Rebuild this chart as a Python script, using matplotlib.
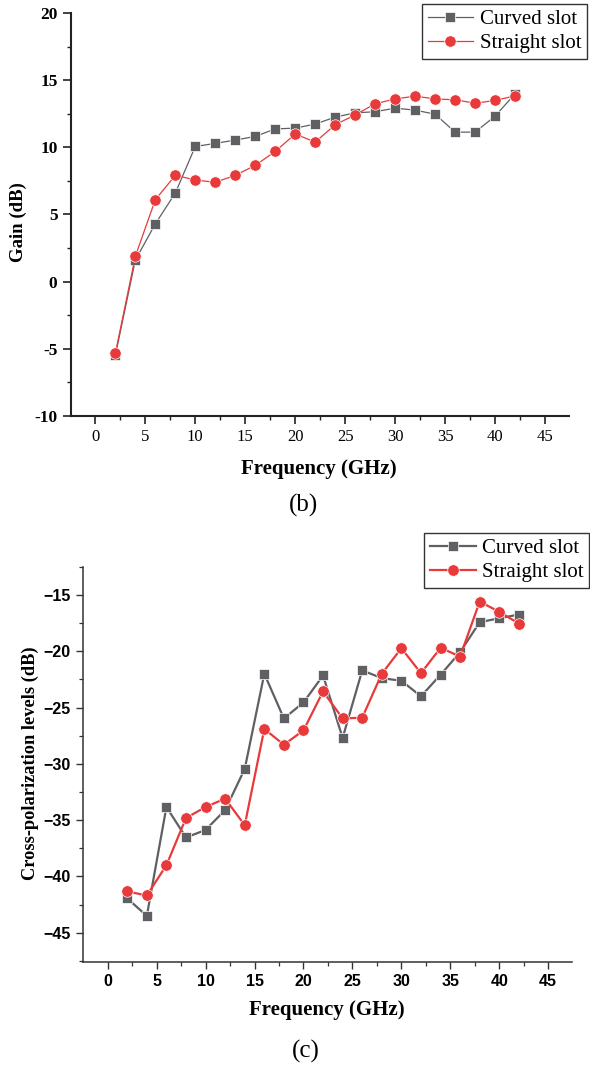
import matplotlib
matplotlib.use("Agg")
import matplotlib.pyplot as plt
from matplotlib.ticker import MultipleLocator, FixedLocator

freq = [2, 4, 6, 8, 10, 12, 14, 16, 18, 20, 22, 24, 26, 28, 30, 32, 34, 36, 38, 40, 42]

gain_curved = [-5.5, 1.6, 4.3, 6.6, 10.07, 10.3, 10.55, 10.82, 11.38, 11.44, 11.74, 12.26,
               12.58, 12.66, 12.93, 12.78, 12.48, 11.14, 11.14, 12.33, 14.0]
gain_straight = [-5.35, 1.88, 6.1, 7.92, 7.57, 7.4, 7.92, 8.66, 9.7, 11.0, 10.4, 11.69,
                 12.43, 13.25, 13.62, 13.82, 13.62, 13.55, 13.3, 13.5, 13.85]

xpol_curved = [-41.95, -43.5, -33.83, -36.54, -35.87, -34.1, -30.45, -22.0, -25.97, -24.55,
               -22.15, -27.7, -21.7, -22.39, -22.62, -24.0, -22.09, -20.08, -17.42, -17.07, -16.74]
xpol_straight = [-41.33, -41.69, -39.0, -34.81, -33.83, -33.09, -35.45, -26.9, -28.3, -27.03,
                 -23.57, -25.97, -25.9, -22.0, -19.73, -21.95, -19.7, -20.47, -15.59, -16.5, -17.54]

series_names = ["Curved slot", "Straight slot"]
gain_yticks = [-10, -5, 0, 5, 10, 15, 20]
gain_xticks = [0, 5, 10, 15, 20, 25, 30, 35, 40, 45]
xpol_yticks = [-45, -40, -35, -30, -25, -20, -15]
xpol_xticks = [0, 5, 10, 15, 20, 25, 30, 35, 40, 45]

GRAY = "#5f6064"
RED = "#e83a3a"
SERIF = ["Liberation Serif", "DejaVu Serif"]
NARROW = ["Liberation Sans Narrow", "Liberation Sans", "DejaVu Sans"]

fig = plt.figure(figsize=(5.9, 10.65), dpi=100)

# ---------------- (b) Gain ----------------
ax1 = fig.add_axes([0.1198, 0.6097, 0.8446, 0.3778])
ax1.plot(freq, gain_curved, color=GRAY, lw=0.9, marker="s", ms=7.2,
         mfc=GRAY, mec="white", mew=0.5, label=series_names[0])
ax1.plot(freq, gain_straight, color=RED, lw=0.9, marker="o", ms=8.2,
         mfc=RED, mec="white", mew=0.5, label=series_names[1])
ax1.set_xlim(-2.47, 47.4)
ax1.set_ylim(-10, 20)
ax1.xaxis.set_major_locator(FixedLocator(gain_xticks))
ax1.xaxis.set_minor_locator(MultipleLocator(2.5))
ax1.yaxis.set_major_locator(FixedLocator(gain_yticks))
ax1.yaxis.set_minor_locator(MultipleLocator(2.5))
ax1.set_xticklabels([str(v) for v in gain_xticks], family=SERIF, fontsize=12)
ax1.set_yticklabels([str(v) for v in gain_yticks], family=SERIF, fontsize=12.5, fontweight="bold")
for s in ["top", "right"]:
    ax1.spines[s].set_visible(False)
for s in ["left", "bottom"]:
    ax1.spines[s].set_linewidth(1.5)
    ax1.spines[s].set_color("#222222")
ax1.tick_params(which="major", direction="out", length=5.5, width=1.2, color="#222222", pad=4)
ax1.tick_params(which="minor", direction="out", length=3, width=1.0, color="#222222")

fig.text(0.541, 0.5596, "Frequency (GHz)", ha="center", va="center",
         family=SERIF, fontsize=15, fontweight="bold")
fig.text(0.0305, 0.7915, "Gain (dB)", ha="center", va="center", rotation=90,
         family=SERIF, fontsize=13.5, fontweight="bold")
fig.text(0.514, 0.525, "(b)", ha="center", va="center", family=SERIF, fontsize=18)

leg1 = ax1.legend(loc="upper right", bbox_to_anchor=(0.995, 0.9962),
                  bbox_transform=fig.transFigure, prop={"family": SERIF, "size": 15},
                  frameon=True, fancybox=False, framealpha=1, edgecolor="#333333",
                  handlelength=2.2, borderpad=0.28, labelspacing=0.2, handletextpad=0.3,
                  borderaxespad=0)
leg1.get_frame().set_linewidth(1.0)

# ---------------- (c) Cross-polarization ----------------
ax2 = fig.add_axes([0.1412, 0.0970, 0.8278, 0.3709])
ax2.plot(freq, xpol_curved, color=GRAY, lw=1.6, marker="s", ms=7.2,
         mfc=GRAY, mec="white", mew=0.5, label=series_names[0])
ax2.plot(freq, xpol_straight, color=RED, lw=1.6, marker="o", ms=8.3,
         mfc=RED, mec="white", mew=0.5, label=series_names[1])
ax2.set_xlim(-2.49, 47.4)
ax2.set_ylim(-47.57, -12.49)
ax2.xaxis.set_major_locator(FixedLocator(xpol_xticks))
ax2.xaxis.set_minor_locator(MultipleLocator(2.5))
ax2.yaxis.set_major_locator(FixedLocator(xpol_yticks))
ax2.yaxis.set_minor_locator(MultipleLocator(2.5))
ax2.set_xticklabels([str(v) for v in xpol_xticks], family=NARROW, fontsize=11.5, fontweight="bold")
ax2.set_yticklabels([str(v).replace("-", "\u2212") for v in xpol_yticks], family=NARROW,
                    fontsize=11.5, fontweight="bold")
for s in ["top", "right"]:
    ax2.spines[s].set_visible(False)
for s in ["left", "bottom"]:
    ax2.spines[s].set_linewidth(1.1)
    ax2.spines[s].set_color("#333333")
ax2.tick_params(which="major", direction="out", length=5, width=1.0, color="#333333", pad=4)
ax2.tick_params(which="minor", direction="out", length=3, width=0.9, color="#333333")

fig.text(0.554, 0.0516, "Frequency (GHz)", ha="center", va="center",
         family=SERIF, fontsize=15, fontweight="bold")
fig.text(0.051, 0.283, "Cross-polarization levels (dB)", ha="center", va="center", rotation=90,
         family=SERIF, fontsize=13.2, fontweight="bold")
fig.text(0.519, 0.0125, "(c)", ha="center", va="center", family=SERIF, fontsize=18)

leg2 = ax2.legend(loc="upper right", bbox_to_anchor=(0.999, 0.4998),
                  bbox_transform=fig.transFigure, prop={"family": SERIF, "size": 15},
                  frameon=True, fancybox=False, framealpha=1, edgecolor="#333333",
                  handlelength=2.2, borderpad=0.28, labelspacing=0.2, handletextpad=0.3,
                  borderaxespad=0)
leg2.get_frame().set_linewidth(1.0)

fig.savefig("out.png", dpi=100)
